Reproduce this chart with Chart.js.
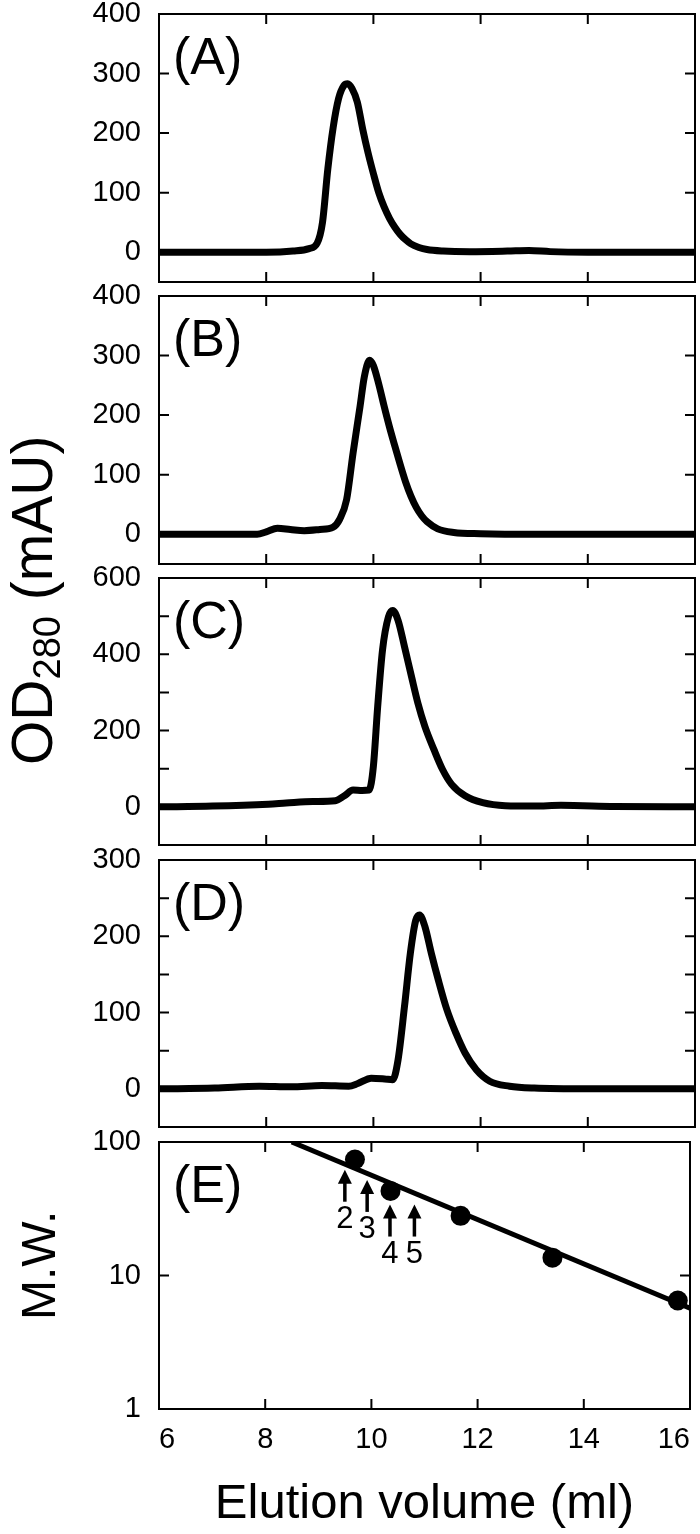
<!DOCTYPE html>
<html>
<head>
<meta charset="utf-8">
<script src="https://cdn.jsdelivr.net/npm/chart.js@4.4.0/dist/chart.umd.min.js"></script>
<style>
    body { margin: 0; background: #fff; }
    #wrap { position: relative; width: 700px; height: 1534px; overflow: hidden; background: #fff; }
    canvas { position: absolute; left: 0; }
    .ttl { position: absolute; transform-origin: 0 0; transform: rotate(-90deg); white-space: nowrap;
           font-family: 'Liberation Sans', Arial, Helvetica, sans-serif; color: #000; }
    .sub { font-size: 38px; line-height: 0; position: relative; top: 8px; }
</style>
</head>
<body>
<div id="wrap">
    <canvas id="cA" width="700" height="328" style="top:-16px"></canvas>
    <canvas id="cB" width="700" height="328" style="top:266px"></canvas>
    <canvas id="cC" width="700" height="327" style="top:548px"></canvas>
    <canvas id="cD" width="700" height="327" style="top:830px"></canvas>
    <canvas id="cE" width="700" height="422" style="top:1112px"></canvas>
    <div class="ttl" style="left:4px; top:765px; font-size:57px; line-height:56px;">OD<span class="sub">280</span> (mAU)</div>
    <div class="ttl" style="left:15px; top:1320px; font-size:48px; line-height:48px;">M.W.</div>
</div>
<script>
// 横轴 (ml)
var xTicks = [6, 8, 10, 12, 14, 16];

// (A)
var volA = [6, 7, 8, 8.5, 8.8, 8.95, 9.05, 9.15, 9.25, 9.35, 9.45, 9.52, 9.6, 9.7, 9.8, 9.9, 10.0, 10.1, 10.2, 10.3, 10.4, 10.5, 10.6, 10.7, 10.85, 11.0, 11.3, 11.8, 12.5, 12.9, 13.3, 14, 15, 16];
var odA = [0, 0, 0, 2, 6, 15, 50, 140, 210, 258, 280, 283, 275, 252, 207, 167, 132, 100, 76, 57, 42, 30, 21, 14, 8, 4.5, 2, 1, 2, 3, 1, 0, 0, 0];
var yTicksA = [0, 100, 200, 300, 400];

// (B)
var volB = [6, 7, 7.83, 8.0, 8.21, 8.45, 8.71, 9.0, 9.25, 9.37, 9.5, 9.62, 9.75, 9.83, 9.93, 10.0, 10.1, 10.2, 10.3, 10.4, 10.5, 10.6, 10.7, 10.8, 10.9, 11.0, 11.2, 11.5, 12, 13, 14, 15, 16];
var odB = [0, 0, 0, 4, 10, 8, 6, 8, 12, 25, 58, 136, 214, 264, 292, 283, 252, 215, 180, 148, 117, 88, 64, 45, 31, 21, 9, 3, 1, 0, 0, 0, 0];
var yTicksB = [0, 100, 200, 300, 400];

// (C)
var volC = [6, 7, 8.04, 8.37, 8.87, 9.29, 9.46, 9.62, 9.79, 9.92, 10.0, 10.08, 10.17, 10.28, 10.36, 10.46, 10.58, 10.71, 10.83, 10.96, 11.13, 11.29, 11.46, 11.71, 12.04, 12.46, 13.0, 13.5, 14.5, 16];
var odC = [0, 2, 7, 10, 14, 16, 29, 44, 43, 44, 107, 263, 411, 498, 515, 489, 420, 342, 272, 211, 150, 98, 59, 29, 11, 3, 2, 4, 1, 0];
var yTicksC = [0, 100, 200, 300, 400, 500, 600];
var yLabelsC = [0, 200, 400, 600];

// (D)
var volD = [6, 7.04, 7.87, 8.46, 9.04, 9.54, 9.71, 9.96, 10.21, 10.36, 10.46, 10.58, 10.69, 10.79, 10.86, 10.96, 11.08, 11.21, 11.37, 11.54, 11.71, 11.92, 12.17, 12.54, 13, 14, 16];
var odD = [0, 1, 3.5, 2.6, 4.4, 3.5, 7, 14, 13, 12, 38, 108, 178, 221, 228, 213, 178, 143, 104, 73, 47, 25, 10, 3.5, 1, 0, 0];
var yTicksD = [0, 50, 100, 150, 200, 250, 300];
var yLabelsD = [0, 100, 200, 300];

// (E) 标准蛋白
var stdVol = [9.69, 10.36, 11.68, 13.41, 15.77];
var stdMW = [74, 43, 28, 13.6, 6.5];
var fitVol = [8.5, 16];
var fitMW = [100, 5.7];
var yTicksE = [1, 10, 100];
// 箭头 2-5
var arrowVol = [9.5, 9.92, 10.35, 10.81];
var arrowMW = [62, 52, 34, 34];
var arrowText = ['2', '3', '4', '5'];

var FONT = "'Liberation Sans', Arial, Helvetica, sans-serif";

function pts(xs, ys) {
    return xs.map(function (v, i) { return {x: v, y: ys[i]}; });
}

// 边框 + 向内的刻度 + 字母
var framePlugin = {
    id: 'frame',
    afterDraw: function (chart, args, opts) {
        var ctx = chart.ctx, a = chart.chartArea;
        var xs = chart.scales.x, ys = chart.scales.y;
        ctx.save();
        ctx.strokeStyle = '#000';
        ctx.lineWidth = 2;
        ctx.strokeRect(a.left, a.top, a.right - a.left, a.bottom - a.top);
        ctx.beginPath();
        xTicks.forEach(function (v) {
            var px = xs.getPixelForValue(v);
            if (px - a.left < 2 || a.right - px < 2) return;
            ctx.moveTo(px, a.top); ctx.lineTo(px, a.top + 10);
            ctx.moveTo(px, a.bottom); ctx.lineTo(px, a.bottom - 10);
        });
        ys.ticks.forEach(function (t) {
            var py = ys.getPixelForValue(t.value);
            if (py - a.top < 2 || a.bottom - py < 2) return;
            ctx.moveTo(a.left, py); ctx.lineTo(a.left + 10, py);
            ctx.moveTo(a.right, py); ctx.lineTo(a.right - 10, py);
        });
        ctx.stroke();
        ctx.fillStyle = '#000';
        ctx.font = '52px ' + FONT;
        ctx.textAlign = 'left';
        ctx.textBaseline = 'middle';
        ctx.fillText(opts.letter, a.left + 14, a.top + 46);
        ctx.restore();
    }
};

// 箭头
var arrowPlugin = {
    id: 'arrows',
    afterDatasetsDraw: function (chart) {
        var ctx = chart.ctx, xs = chart.scales.x, ys = chart.scales.y;
        ctx.save();
        ctx.strokeStyle = '#000';
        ctx.fillStyle = '#000';
        ctx.lineWidth = 3.5;
        ctx.font = '31px ' + FONT;
        ctx.textAlign = 'center';
        ctx.textBaseline = 'middle';
        arrowVol.forEach(function (v, i) {
            var px = xs.getPixelForValue(v);
            var tip = ys.getPixelForValue(arrowMW[i]);
            ctx.beginPath();
            ctx.moveTo(px, tip + 8);
            ctx.lineTo(px, tip + 32);
            ctx.stroke();
            ctx.beginPath();
            ctx.moveTo(px, tip);
            ctx.lineTo(px - 7, tip + 14);
            ctx.lineTo(px + 7, tip + 14);
            ctx.closePath();
            ctx.fill();
            ctx.fillText(arrowText[i], px, tip + 50);
        });
        ctx.restore();
    }
};

function yScale(min, max, ticks, labels) {
    return {
        type: 'linear', min: min, max: max,
        afterBuildTicks: function (s) { s.ticks = ticks.map(function (v) { return {value: v}; }); },
        afterFit: function (s) { s.width = 159; },
        grid: {display: false},
        border: {display: false},
        ticks: {
            color: '#000', padding: 10, autoSkip: false,
            font: {family: FONT, size: 29},
            callback: function (v) { return labels.indexOf(v) >= 0 ? String(v) : ''; }
        }
    };
}

function panel(id, xs, ys, min, max, ticks, labels, letter) {
    var ctx = document.getElementById(id).getContext('2d');
    return new Chart(ctx, {
        type: 'line',
        data: {
            datasets: [{
                data: pts(xs, ys),
                borderColor: '#000',
                borderWidth: 7,
                pointRadius: 0,
                cubicInterpolationMode: 'monotone',
                fill: false
            }]
        },
        options: {
            responsive: false,
            animation: false,
            events: [],
            layout: {padding: {top: 30, bottom: 30, left: 0, right: 5}},
            plugins: {legend: {display: false}, tooltip: {enabled: false}, frame: {letter: letter}},
            scales: {
                x: {type: 'linear', min: 6, max: 16, display: false},
                y: yScale(min, max, ticks, labels)
            }
        },
        plugins: [framePlugin]
    });
}

panel('cA', volA, odA, -50, 400, yTicksA, yTicksA, '(A)');
panel('cB', volB, odB, -50, 400, yTicksB, yTicksB, '(B)');
panel('cC', volC, odC, -100, 600, yTicksC, yLabelsC, '(C)');
panel('cD', volD, odD, -50, 300, yTicksD, yLabelsD, '(D)');

// (E) 分子量对数图
var chartE = new Chart(document.getElementById('cE').getContext('2d'), {
    type: 'line',
    data: {
        datasets: [
            {
                data: pts(fitVol, fitMW),
                borderColor: '#000',
                borderWidth: 5,
                pointRadius: 0,
                fill: false
            },
            {
                data: pts(stdVol, stdMW),
                showLine: false,
                pointRadius: 10,
                pointBackgroundColor: '#000',
                pointBorderColor: '#000',
                pointBorderWidth: 0
            }
        ]
    },
    options: {
        responsive: false,
        animation: false,
        events: [],
        layout: {padding: {top: 30, bottom: 0, left: 0, right: 5}},
        plugins: {legend: {display: false}, tooltip: {enabled: false}, frame: {letter: '(E)'}},
        scales: {
            x: {
                type: 'linear', min: 6, max: 16,
                afterBuildTicks: function (s) { s.ticks = xTicks.map(function (v) { return {value: v}; }); },
                afterFit: function (s) { s.height = 125; },
                grid: {display: false},
                border: {display: false},
                ticks: {
                    color: '#000', padding: 6, align: 'inner', autoSkip: false, maxRotation: 0,
                    font: {family: FONT, size: 29},
                    callback: function (v) { return String(v); }
                },
                title: {
                    display: true, text: 'Elution volume (ml)', color: '#000',
                    font: {family: FONT, size: 49}, padding: {top: 0, bottom: 0}
                }
            },
            y: {
                type: 'logarithmic', min: 1, max: 100,
                afterBuildTicks: function (s) { s.ticks = yTicksE.map(function (v) { return {value: v}; }); },
                afterFit: function (s) { s.width = 159; },
                grid: {display: false},
                border: {display: false},
                ticks: {
                    color: '#000', padding: 10, autoSkip: false,
                    font: {family: FONT, size: 29},
                    callback: function (v) { return String(v); }
                }
            }
        }
    },
    plugins: [framePlugin, arrowPlugin]
});
</script>
</body>
</html>
